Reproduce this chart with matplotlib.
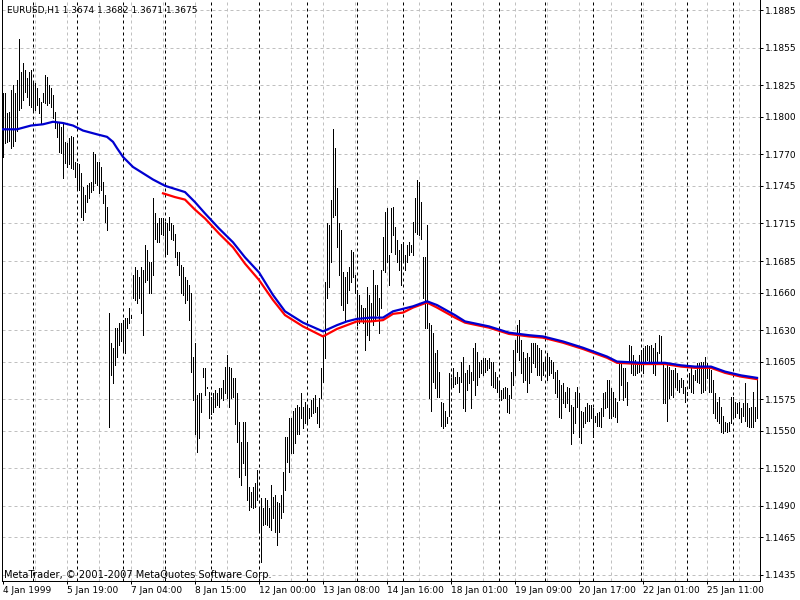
import matplotlib
matplotlib.use("Agg")
import matplotlib.pyplot as plt

# EURUSD H1, hourly bars from 4 Jan 1999 (prices in pips, i.e. price * 1e4)
HIGH = [
    11819, 11819, 11803, 11804, 11821, 11825, 11819, 11829, 11862, 11836,
    11843, 11837, 11831, 11836, 11837, 11828, 11827, 11823, 11815, 11812,
    11819, 11833, 11832, 11825, 11823, 11817, 11804, 11796, 11795, 11792,
    11795, 11780, 11779, 11783, 11785, 11784, 11764, 11763, 11762, 11755,
    11744, 11738, 11746, 11747, 11748, 11772, 11770, 11764, 11764, 11760,
    11748, 11738, 11728, 11644, 11620, 11616, 11632, 11632, 11636, 11636,
    11638, 11640, 11640, 11648, 11642, 11674, 11680, 11678, 11672, 11680,
    11678, 11698, 11694, 11684,
    11684, 11735, 11723, 11715, 11719, 11719, 11719, 11716, 11715, 11720,
    11715, 11714, 11707, 11692, 11692, 11682, 11680, 11672, 11670, 11666,
    11660, 11609, 11620, 11578, 11580, 11580, 11600, 11600, 11585, 11581,
    11577, 11580, 11582, 11580, 11584, 11584, 11590, 11601, 11610, 11601,
    11600, 11592, 11592, 11580, 11557, 11541, 11557, 11557, 11541, 11505,
    11501, 11505, 11508, 11519, 11488, 11496, 11488, 11496, 11495, 11488,
    11507, 11497, 11499, 11493, 11492, 11499, 11517, 11545, 11545, 11560,
    11560, 11566, 11568, 11570, 11569, 11580,
    11569, 11573, 11570, 11568, 11574, 11576, 11578, 11569, 11576, 11600,
    11626, 11668, 11715, 11714, 11734, 11790, 11775, 11743, 11715, 11710,
    11676, 11672, 11676, 11680, 11694, 11692, 11674, 11662, 11658, 11650,
    11648, 11648, 11664, 11658, 11652, 11678, 11666, 11666, 11656, 11678,
    11704, 11724, 11727, 11690, 11727, 11728, 11712, 11702, 11694, 11699,
    11700, 11690, 11698, 11700, 11698, 11716, 11735, 11750, 11748, 11732,
    11688, 11688, 11714, 11636, 11634, 11628, 11612, 11614, 11597, 11573,
    11572, 11566, 11561, 11596, 11592, 11600,
    11593, 11597, 11593, 11605, 11609, 11596, 11598, 11602, 11597, 11616,
    11620, 11613, 11605, 11606, 11608, 11608, 11606, 11608, 11605, 11605,
    11597, 11593, 11589, 11582, 11584, 11585, 11584, 11578, 11597, 11614,
    11622, 11634, 11638, 11622, 11613, 11608, 11612, 11609, 11620, 11620,
    11620, 11618, 11616, 11614, 11605, 11609, 11612, 11609, 11606, 11605,
    11597, 11598, 11590, 11586, 11588, 11581, 11585, 11584, 11570, 11569,
    11581, 11585, 11580, 11566, 11565, 11569, 11572, 11570, 11570, 11568,
    11562, 11564, 11565, 11568, 11580, 11581,
    11590, 11590, 11584, 11581, 11576, 11573, 11604, 11605, 11600, 11600,
    11589, 11618, 11617, 11610, 11606, 11605, 11610, 11614, 11616, 11617,
    11618, 11617, 11618, 11616, 11620, 11613, 11626, 11625, 11604, 11600,
    11604, 11601, 11598, 11598, 11600, 11596, 11590, 11592, 11590, 11585,
    11581, 11596, 11600, 11594, 11598, 11604, 11604, 11605, 11605, 11609,
    11604, 11601, 11598, 11590, 11580, 11573, 11577, 11569, 11562, 11557,
    11556, 11557, 11577, 11577, 11573, 11572, 11573, 11568, 11572, 11588,
    11572, 11568, 11569, 11581, 11569, 11590,
]
LOW = [
    11768, 11779, 11780, 11781, 11775, 11777, 11781, 11789, 11805, 11807,
    11813, 11820, 11816, 11809, 11808, 11805, 11805, 11809, 11803, 11795,
    11812, 11811, 11809, 11811, 11808, 11799, 11791, 11784, 11772, 11771,
    11751, 11763, 11760, 11762, 11759, 11758, 11752, 11742, 11742, 11720,
    11718, 11724, 11732, 11735, 11740, 11742, 11747, 11746, 11739, 11742,
    11731, 11716, 11710, 11553, 11594, 11588, 11602, 11609, 11618, 11621,
    11613, 11612, 11632, 11636, 11640, 11656, 11654, 11652, 11656, 11644,
    11626, 11668, 11670, 11660,
    11660, 11674, 11703, 11700, 11700, 11707, 11706, 11690, 11691, 11710,
    11703, 11702, 11688, 11682, 11674, 11660, 11658, 11652, 11654, 11638,
    11597, 11574, 11547, 11533, 11544, 11565, 11593, 11578, 11584, 11560,
    11563, 11565, 11569, 11570, 11569, 11576, 11574, 11580, 11576, 11569,
    11576, 11577, 11555, 11541, 11513, 11507, 11524, 11515, 11495, 11487,
    11489, 11488, 11489, 11495, 11471, 11445, 11475, 11476, 11475, 11473,
    11471, 11480, 11469, 11459, 11469, 11480, 11485, 11503, 11525, 11517,
    11532, 11532, 11540, 11547, 11547, 11560,
    11552, 11556, 11556, 11560, 11562, 11564, 11565, 11556, 11553, 11576,
    11589, 11608, 11656, 11664, 11684, 11720, 11722, 11696, 11674, 11650,
    11646, 11637, 11652, 11662, 11668, 11672, 11660, 11634, 11636, 11637,
    11636, 11614, 11626, 11622, 11637, 11634, 11638, 11642, 11628, 11648,
    11678, 11676, 11684, 11666, 11692, 11706, 11691, 11684, 11678, 11666,
    11684, 11678, 11684, 11690, 11692, 11690, 11708, 11707, 11706, 11703,
    11656, 11632, 11632, 11576, 11566, 11589, 11584, 11577, 11577, 11554,
    11552, 11554, 11556, 11562, 11584, 11585,
    11587, 11588, 11581, 11589, 11568, 11566, 11582, 11588, 11568, 11590,
    11578, 11586, 11593, 11596, 11594, 11597, 11598, 11600, 11586, 11585,
    11584, 11581, 11577, 11574, 11576, 11576, 11565, 11564, 11576, 11586,
    11594, 11613, 11606, 11596, 11589, 11590, 11581, 11588, 11597, 11604,
    11601, 11594, 11594, 11590, 11594, 11598, 11590, 11594, 11596, 11592,
    11580, 11577, 11561, 11560, 11572, 11569, 11572, 11566, 11539, 11548,
    11556, 11569, 11545, 11540, 11553, 11556, 11558, 11558, 11560, 11545,
    11557, 11554, 11554, 11553, 11562, 11568,
    11569, 11560, 11560, 11562, 11561, 11557, 11574, 11586, 11574, 11577,
    11570, 11604, 11596, 11594, 11594, 11596, 11597, 11600, 11596, 11604,
    11606, 11604, 11605, 11596, 11594, 11605, 11612, 11604, 11572, 11572,
    11558, 11576, 11578, 11577, 11585, 11582, 11581, 11585, 11580, 11573,
    11578, 11584, 11581, 11580, 11590, 11589, 11588, 11580, 11581, 11582,
    11592, 11581, 11581, 11564, 11560, 11558, 11556, 11549, 11548, 11550,
    11549, 11550, 11556, 11562, 11561, 11564, 11560, 11557, 11562, 11558,
    11554, 11553, 11553, 11553, 11558, 11560,
]

# moving averages, read at selected bars (bar index, pips)
BLUE_BAR = [0, 7, 14, 20, 25, 30, 35, 40, 47, 52, 55, 57, 60, 65, 70, 75, 81, 91, 96,
            101, 108, 115, 121, 128, 135, 141, 150, 160, 167, 172, 177, 184, 190,
            195, 200, 205, 212, 217, 226, 231, 243, 253, 263, 270, 280, 290, 302,
            307, 319, 331, 339, 346, 354, 361, 369, 377]
BLUE_MA = [11790, 11790, 11793, 11794, 11796, 11795, 11793, 11789, 11786, 11784,
           11780, 11775, 11768, 11760, 11755, 11750, 11745, 11740, 11732, 11723, 11711,
           11700, 11688, 11676, 11658, 11645, 11636, 11629, 11634, 11637, 11639,
           11640, 11640, 11645, 11647, 11649, 11653, 11650, 11642, 11637, 11633,
           11628, 11626, 11625, 11621, 11616, 11609, 11605, 11604, 11604, 11602,
           11601, 11601, 11597, 11594, 11592]
RED_BAR = [80, 86, 91, 96, 101, 108, 115, 121, 128, 135, 141, 150, 160, 167, 172,
           177, 184, 190, 195, 200, 205, 212, 217, 226, 231, 243, 253, 263, 270,
           280, 290, 302, 307, 319, 331, 339, 346, 354, 361, 369, 377]
RED_MA = [11739, 11736, 11734, 11726, 11719, 11707, 11696, 11683, 11670, 11654,
          11642, 11633, 11625, 11631, 11634, 11637, 11637, 11638, 11643, 11644,
          11648, 11652, 11648, 11640, 11636, 11632, 11627, 11625, 11624, 11620,
          11615, 11608, 11604, 11603, 11603, 11601, 11600, 11600, 11596, 11593,
          11591]

DAY_SEPARATORS = [15, 37, 60, 81, 104, 128, 152, 177, 200, 224, 248, 271, 295, 319, 342, 365]
X_TICK_BARS = [0, 32, 64, 96, 128, 160, 192, 224, 256, 288, 320, 352]
X_TICK_LABELS = ["4 Jan 1999", "5 Jan 19:00", "7 Jan 04:00", "8 Jan 15:00",
                 "12 Jan 00:00", "13 Jan 08:00", "14 Jan 16:00", "18 Jan 01:00",
                 "19 Jan 09:00", "20 Jan 17:00", "22 Jan 01:00", "25 Jan 11:00"]
Y_TICKS = [1.1885, 1.1855, 1.1825, 1.1800, 1.1770, 1.1745, 1.1715, 1.1685, 1.1660,
           1.1630, 1.1605, 1.1575, 1.1550, 1.1520, 1.1490, 1.1465, 1.1435]

FONT = dict(family="DejaVu Sans", size=6.5)
PX = 0.72  # one pixel in points at 100 dpi

fig = plt.figure(figsize=(8, 6), dpi=100, facecolor="white")
ax = fig.add_axes([2 / 800, 19 / 600, 758 / 800, 581 / 600])
ax.set_facecolor("white")

n = len(HIGH)
idx = list(range(n))
ax.set_xlim(-0.5, 378.5)
ax.set_ylim(1.14302, 1.18930)

# grid: grey price/time grid plus black day separators
for y in Y_TICKS:
    ax.axhline(y, color="#c0c0c0", lw=PX, ls=(0, (3, 3)), zorder=0)
for b in range(16, n, 16):
    ax.axvline(b, color="#c0c0c0", lw=PX, ls=(0, (3, 3)), zorder=0)
for b in DAY_SEPARATORS:
    ax.axvline(b, color="black", lw=PX, ls=(0, (3, 3)), zorder=1)

ax.vlines(idx, [v / 1e4 for v in LOW], [v / 1e4 for v in HIGH],
          color="black", lw=PX, antialiased=False, zorder=2)
ax.plot(RED_BAR, [v / 1e4 for v in RED_MA], color="#ff0000", lw=1.6, zorder=3)
ax.plot(BLUE_BAR, [v / 1e4 for v in BLUE_MA], color="#0000d0", lw=1.6, zorder=4)

for side in ("left", "right", "bottom"):
    ax.spines[side].set_linewidth(PX)
    ax.spines[side].set_color("black")
ax.spines["top"].set_visible(False)

ax.yaxis.tick_right()
ax.set_yticks(Y_TICKS)
ax.set_yticklabels([f"{v:.4f}" for v in Y_TICKS], **FONT)
ax.set_xticks(X_TICK_BARS)
ax.set_xticklabels(X_TICK_LABELS, ha="left", **FONT)
ax.tick_params(axis="both", direction="out", length=2.2, width=PX, pad=1.5, colors="black")

fig.text(7 / 800, 1 - 11 / 600, "EURUSD,H1 1.3674 1.3682 1.3671 1.3675",
         va="center", ha="left", **FONT)
fig.text(4 / 800, 1 - 575 / 600, "MetaTrader, © 2001-2007 MetaQuotes Software Corp.",
         va="center", ha="left", family="DejaVu Sans", size=7.1)

fig.savefig("out.png", dpi=100, facecolor="white")
